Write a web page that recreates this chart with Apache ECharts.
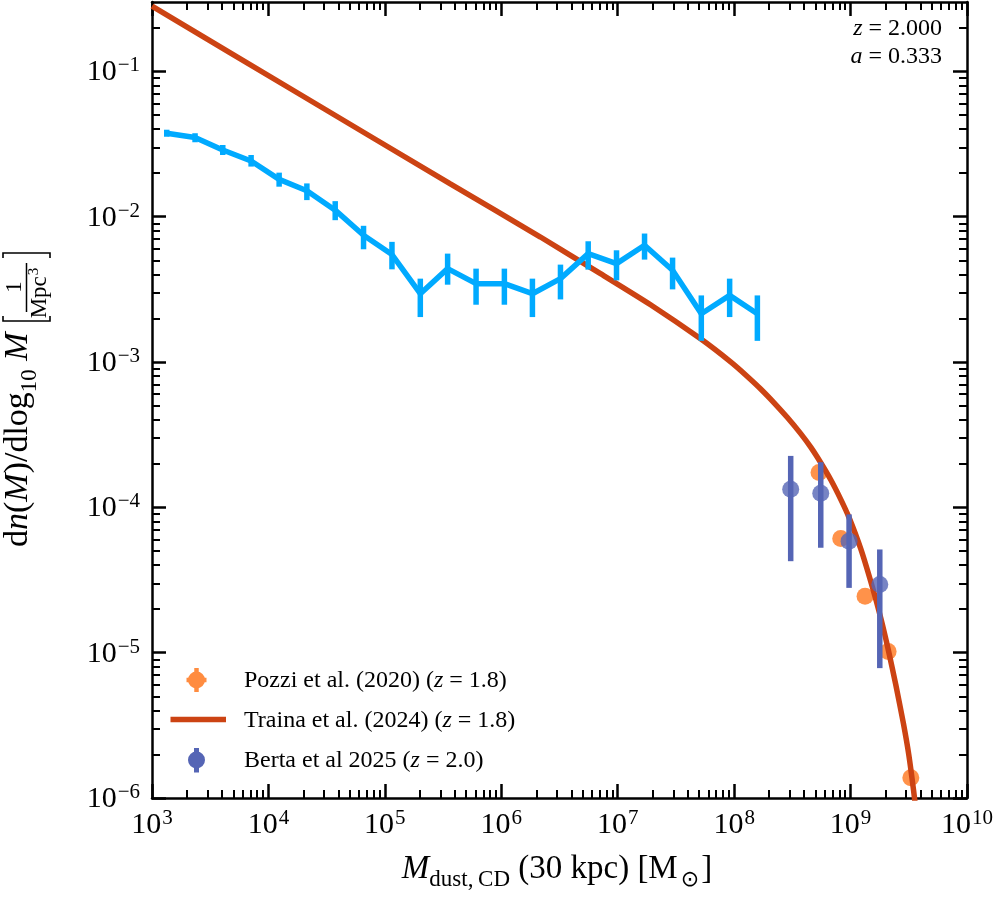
<!DOCTYPE html>
<html><head><meta charset="utf-8">
<script src="https://cdn.jsdelivr.net/npm/echarts@6/dist/echarts.min.js"></script>
<style>html,body{margin:0;padding:0;background:#fff}#c{width:996px;height:900px}</style>
</head><body><div id="c"></div>
<script>
// ---- simulation (blue) ----
const simMass = [1338, 2343, 4054, 7099, 12360, 21390, 37460, 65600, 115100, 201600, 346000, 607300,
  1.063e6, 1.851e6, 3.223e6, 5.578e6, 9.766e6, 1.700e7, 2.959e7, 5.224e7, 9.149e7, 1.583e8];
const simDens = [0.03751, 0.03503, 0.02876, 0.02415, 0.01805, 0.01509, 0.01109, 0.007451, 0.005483, 0.002951, 0.004390, 0.003459,
  0.003459, 0.002951, 0.003746, 0.005570, 0.004753, 0.006357, 0.004274, 0.002147, 0.002872, 0.002147];
const simLow = [0.03548, 0.03251, 0.02657, 0.02211, 0.01608, 0.01300, 0.009458, 0.005965, 0.004342, 0.002038, 0.003404, 0.002478,
  0.002478, 0.002038, 0.002695, 0.004321, 0.003646, 0.005065, 0.003160, 0.001398, 0.002038, 0.001398];
const simHigh = [0.03966, 0.03751, 0.03114, 0.02657, 0.02009, 0.01694, 0.01279, 0.008654, 0.006710, 0.003746, 0.005570, 0.004390,
  0.004390, 0.003746, 0.004678, 0.006774, 0.005871, 0.007656, 0.005228, 0.002872, 0.003746, 0.002872];
// ---- Traina et al. (2024) ----
const trainaMass = [1e3, 1.874e4, 3.650e5, 2.169e6, 7.113e6, 1.914e7, 5.151e7, 9.331e7, 1.256e8, 1.690e8, 2.275e8, 2.867e8,
  3.730e8, 4.548e8, 5.545e8, 6.759e8, 8.235e8, 9.650e8, 1.224e9, 1.543e9, 1.818e9, 2.118e9, 2.447e9, 2.850e9, 3.166e9, 3.474e9, 3.709e9];
const trainaDens = [0.2810, 0.06928, 0.01679, 0.007244, 0.004055, 0.002478, 0.001443, 0.001002, 8.146e-4, 6.523e-4, 5.098e-4, 4.146e-4,
  3.215e-4, 2.595e-4, 2.028e-4, 1.548e-4, 1.135e-4, 8.597e-5, 5.169e-5, 2.805e-5, 1.727e-5, 1.030e-5, 6.003e-6, 3.230e-6, 1.974e-6, 1.132e-6, 7.254e-7];
// ---- Pozzi et al. (2020) ----
const pozziMass = [5.361e8, 8.235e8, 1.332e9, 2.101e9, 3.293e9];
const pozziDens = [1.736e-4, 6.109e-5, 2.443e-5, 1.019e-5, 1.376e-6];
// ---- Berta et al 2025 ----
const bertaMass = [3.060e8, 5.545e8, 9.707e8, 1.782e9];
const bertaDens = [1.331e-4, 1.249e-4, 5.854e-5, 2.941e-5];
const bertaLow = [4.260e-5, 5.271e-5, 2.791e-5, 7.827e-6];
const bertaHigh = [2.259e-4, 2.044e-4, 8.946e-5, 5.130e-5];
// ---- ticks ----
const xMajor = [1e3, 1e4, 1e5, 1e6, 1e7, 1e8, 1e9, 1e10];
const yMajor = [1e-6, 1e-5, 1e-4, 1e-3, 1e-2, 1e-1];
const xMinor = [], yMinor = [];
for (let e = 3; e < 10; e++) for (let m = 2; m <= 9; m++) xMinor.push(m * Math.pow(10, e));
for (let e = -6; e < 0; e++) for (let m = 2; m <= 9; m++) { const v = m * Math.pow(10, e); if (v <= 0.3) yMinor.push(v); }

const FONT = "'Liberation Serif', 'DejaVu Serif', serif";
const C_SIM = '#00aaff', C_TR = '#cc4313', C_PO = '#ff8c40', C_BE = '#5565b5';

function expLabel(v) {
  const e = Math.round(Math.log10(v));
  return '{b|10}{s|' + (e < 0 ? '\u2212' + (-e) : e) + '}';
}
const tickRich = {
  b: { fontFamily: FONT, fontSize: 30, color: '#000', verticalAlign: 'bottom' },
  s: { fontFamily: FONT, fontSize: 21, color: '#000', verticalAlign: 'bottom', padding: [0, 0, 11, 1] }
};
function axisDef(kind, pos, major, showLine, showLabel) {
  const isX = kind === 'x';
  return {
    type: 'log', logBase: 10,
    min: isX ? 1e3 : 1e-6, max: isX ? 1e10 : 0.3,
    splitNumber: isX ? 7 : 5,
    position: pos,
    axisLine: { show: showLine, onZero: false, lineStyle: { color: '#000', width: 2.5 } },
    axisTick: { show: true, inside: true, length: major ? 14 : 8,
      customValues: major ? (isX ? xMajor : yMajor) : (isX ? xMinor : yMinor),
      lineStyle: { color: '#000', width: major ? 2.5 : 2 } },
    axisLabel: { show: showLabel, margin: isX ? 10 : 12, formatter: expLabel, rich: tickRich,
      customValues: isX ? xMajor : yMajor },
    splitLine: { show: false }, minorTick: { show: false }, minorSplitLine: { show: false }
  };
}

function errRender(color) {
  return function (params, api) {
    const x = api.value(0);
    const p1 = api.coord([x, api.value(1)]);
    const p2 = api.coord([x, api.value(2)]);
    return { type: 'line', shape: { x1: p1[0], y1: p1[1], x2: p2[0], y2: p2[1] },
      style: { stroke: color, lineWidth: 5.5, lineCap: 'butt' } };
  };
}

const zip2 = (a, b) => a.map((v, i) => [v, b[i]]);
const zip3 = (a, b, c) => a.map((v, i) => [v, b[i], c[i]]);

const txt = { fontFamily: FONT, color: '#000' };
const legRich = {
  n: Object.assign({ fontSize: 24 }, txt),
  i: Object.assign({ fontSize: 24, fontStyle: 'italic' }, txt)
};
const annRich = {
  n: Object.assign({ fontSize: 24 }, txt),
  i: Object.assign({ fontSize: 24, fontStyle: 'italic' }, txt)
};

const option = {
  backgroundColor: '#fff',
  animation: false,
  grid: { left: 152, right: 29, top: 2, bottom: 102, containLabel: false },
  xAxis: [
    axisDef('x', 'bottom', true, true, true),
    axisDef('x', 'top', true, true, false),
    axisDef('x', 'bottom', false, false, false),
    axisDef('x', 'top', false, false, false)
  ],
  yAxis: [
    axisDef('y', 'left', true, true, true),
    axisDef('y', 'right', true, true, false),
    axisDef('y', 'left', false, false, false),
    axisDef('y', 'right', false, false, false)
  ],
  series: [
    { name: 'Pozzi et al. (2020)', type: 'scatter', data: zip2(pozziMass, pozziDens), symbol: 'circle', symbolSize: 17,
      itemStyle: { color: C_PO, opacity: 0.95 }, z: 2 },
    { name: 'Traina et al. (2024)', type: 'line', data: zip2(trainaMass, trainaDens), showSymbol: false, symbol: 'none',
      smooth: 0.2, lineStyle: { color: C_TR, width: 5.5 }, z: 3 },
    { name: 'Berta err', type: 'custom', data: zip3(bertaMass, bertaLow, bertaHigh), renderItem: errRender(C_BE),
      encode: { x: 0, y: [1, 2] }, z: 4 },
    { name: 'Berta et al 2025', type: 'scatter', data: zip2(bertaMass, bertaDens), symbol: 'circle', symbolSize: 17,
      itemStyle: { color: C_BE }, z: 4 },
    { name: 'sim err', type: 'custom', data: zip3(simMass, simLow, simHigh), renderItem: errRender(C_SIM),
      encode: { x: 0, y: [1, 2] }, z: 5 },
    { name: 'sim', type: 'line', data: zip2(simMass, simDens), showSymbol: false, symbol: 'none',
      lineStyle: { color: C_SIM, width: 5.5, join: 'round' }, z: 5 }
  ],
  graphic: [
    // x axis title
    { type: 'text', x: 557, y: 872, style: {
      text: '{i|M}{sub|dust,\u2009CD}{n| (30 kpc) [M}{sub2|\u2299}{n|]}', align: 'center', verticalAlign: 'middle',
      rich: {
        i: Object.assign({ fontSize: 33, fontStyle: 'italic', verticalAlign: 'bottom', padding: [0, 0, 6, 0] }, txt),
        n: Object.assign({ fontSize: 33, verticalAlign: 'bottom', padding: [0, 0, 6, 0] }, txt),
        sub: Object.assign({ fontSize: 23, verticalAlign: 'bottom' }, txt),
        sub2: Object.assign({ fontSize: 22, verticalAlign: 'bottom', padding: [0, 2, 0, 3], fontFamily: "'DejaVu Sans', sans-serif" }, { color: '#000' })
      } } },
    // y axis title (rotated group)
    { type: 'group', x: 0, y: 547, rotation: Math.PI / 2, children: [
      { type: 'text', x: 0, y: 21, style: {
        text: '{n|d}{i|n}{n|(}{i|M}{n|)/dlog}{sub|10}{n| }{i|M}', align: 'left', verticalAlign: 'middle',
        rich: {
          n: Object.assign({ fontSize: 34, verticalAlign: 'bottom', padding: [0, 0, 6, 0] }, txt),
          i: Object.assign({ fontSize: 34, fontStyle: 'italic', verticalAlign: 'bottom', padding: [0, 0, 6, 0] }, txt),
          sub: Object.assign({ fontSize: 23, verticalAlign: 'bottom' }, txt)
        } } },
      { type: 'polyline', shape: { points: [[231, 3], [226, 3], [226, 50], [231, 50]] }, style: { stroke: '#000', lineWidth: 1.6, fill: null } },
      { type: 'polyline', shape: { points: [[289, 3], [294, 3], [294, 50], [289, 50]] }, style: { stroke: '#000', lineWidth: 1.6, fill: null } },
      { type: 'text', x: 260, y: 15, style: Object.assign({ text: '1', fontSize: 23, align: 'center', verticalAlign: 'middle' }, txt) },
      { type: 'line', shape: { x1: 235, y1: 26.5, x2: 284, y2: 26.5 }, style: { stroke: '#000', lineWidth: 1.5 } },
      { type: 'text', x: 254, y: 39, style: {
        text: '{n|Mpc}{s|3}', align: 'center', verticalAlign: 'middle',
        rich: {
          n: Object.assign({ fontSize: 23, verticalAlign: 'bottom' }, txt),
          s: Object.assign({ fontSize: 15, verticalAlign: 'bottom', padding: [0, 0, 10, 1] }, txt)
        } } }
    ] },
    // redshift annotation
    { type: 'text', x: 942, y: 29, style: { text: '{i|z}{n| = 2.000}', align: 'right', verticalAlign: 'middle', rich: annRich } },
    { type: 'text', x: 942, y: 57, style: { text: '{i|a}{n| = 0.333}', align: 'right', verticalAlign: 'middle', rich: annRich } },
    // legend: Pozzi
    { type: 'line', shape: { x1: 186.5, y1: 680, x2: 206.5, y2: 680 }, style: { stroke: C_PO, lineWidth: 4.5 } },
    { type: 'line', shape: { x1: 196.5, y1: 668, x2: 196.5, y2: 692 }, style: { stroke: C_PO, lineWidth: 4.5 } },
    { type: 'circle', shape: { cx: 196.5, cy: 680, r: 8.5 }, style: { fill: C_PO } },
    { type: 'text', x: 244, y: 681, style: { text: '{n|Pozzi et al. (2020) (}{i|z}{n| = 1.8)}', verticalAlign: 'middle', rich: legRich } },
    // legend: Traina
    { type: 'line', shape: { x1: 170.5, y1: 719.5, x2: 226, y2: 719.5 }, style: { stroke: C_TR, lineWidth: 5.5 } },
    { type: 'text', x: 244, y: 720.5, style: { text: '{n|Traina et al. (2024) (}{i|z}{n| = 1.8)}', verticalAlign: 'middle', rich: legRich } },
    // legend: Berta
    { type: 'line', shape: { x1: 196.5, y1: 748, x2: 196.5, y2: 772.5 }, style: { stroke: C_BE, lineWidth: 5 } },
    { type: 'circle', shape: { cx: 196.5, cy: 760, r: 8.5 }, style: { fill: C_BE } },
    { type: 'text', x: 244, y: 761, style: { text: '{n|Berta et al 2025 (}{i|z}{n| = 2.0)}', verticalAlign: 'middle', rich: legRich } }
  ]
};
option.series.forEach(s => { s.xAxisIndex = 0; s.yAxisIndex = 0; });

const chart = echarts.init(document.getElementById('c'), null, { renderer: 'canvas' });
chart.setOption(option);
</script>
</body></html>
